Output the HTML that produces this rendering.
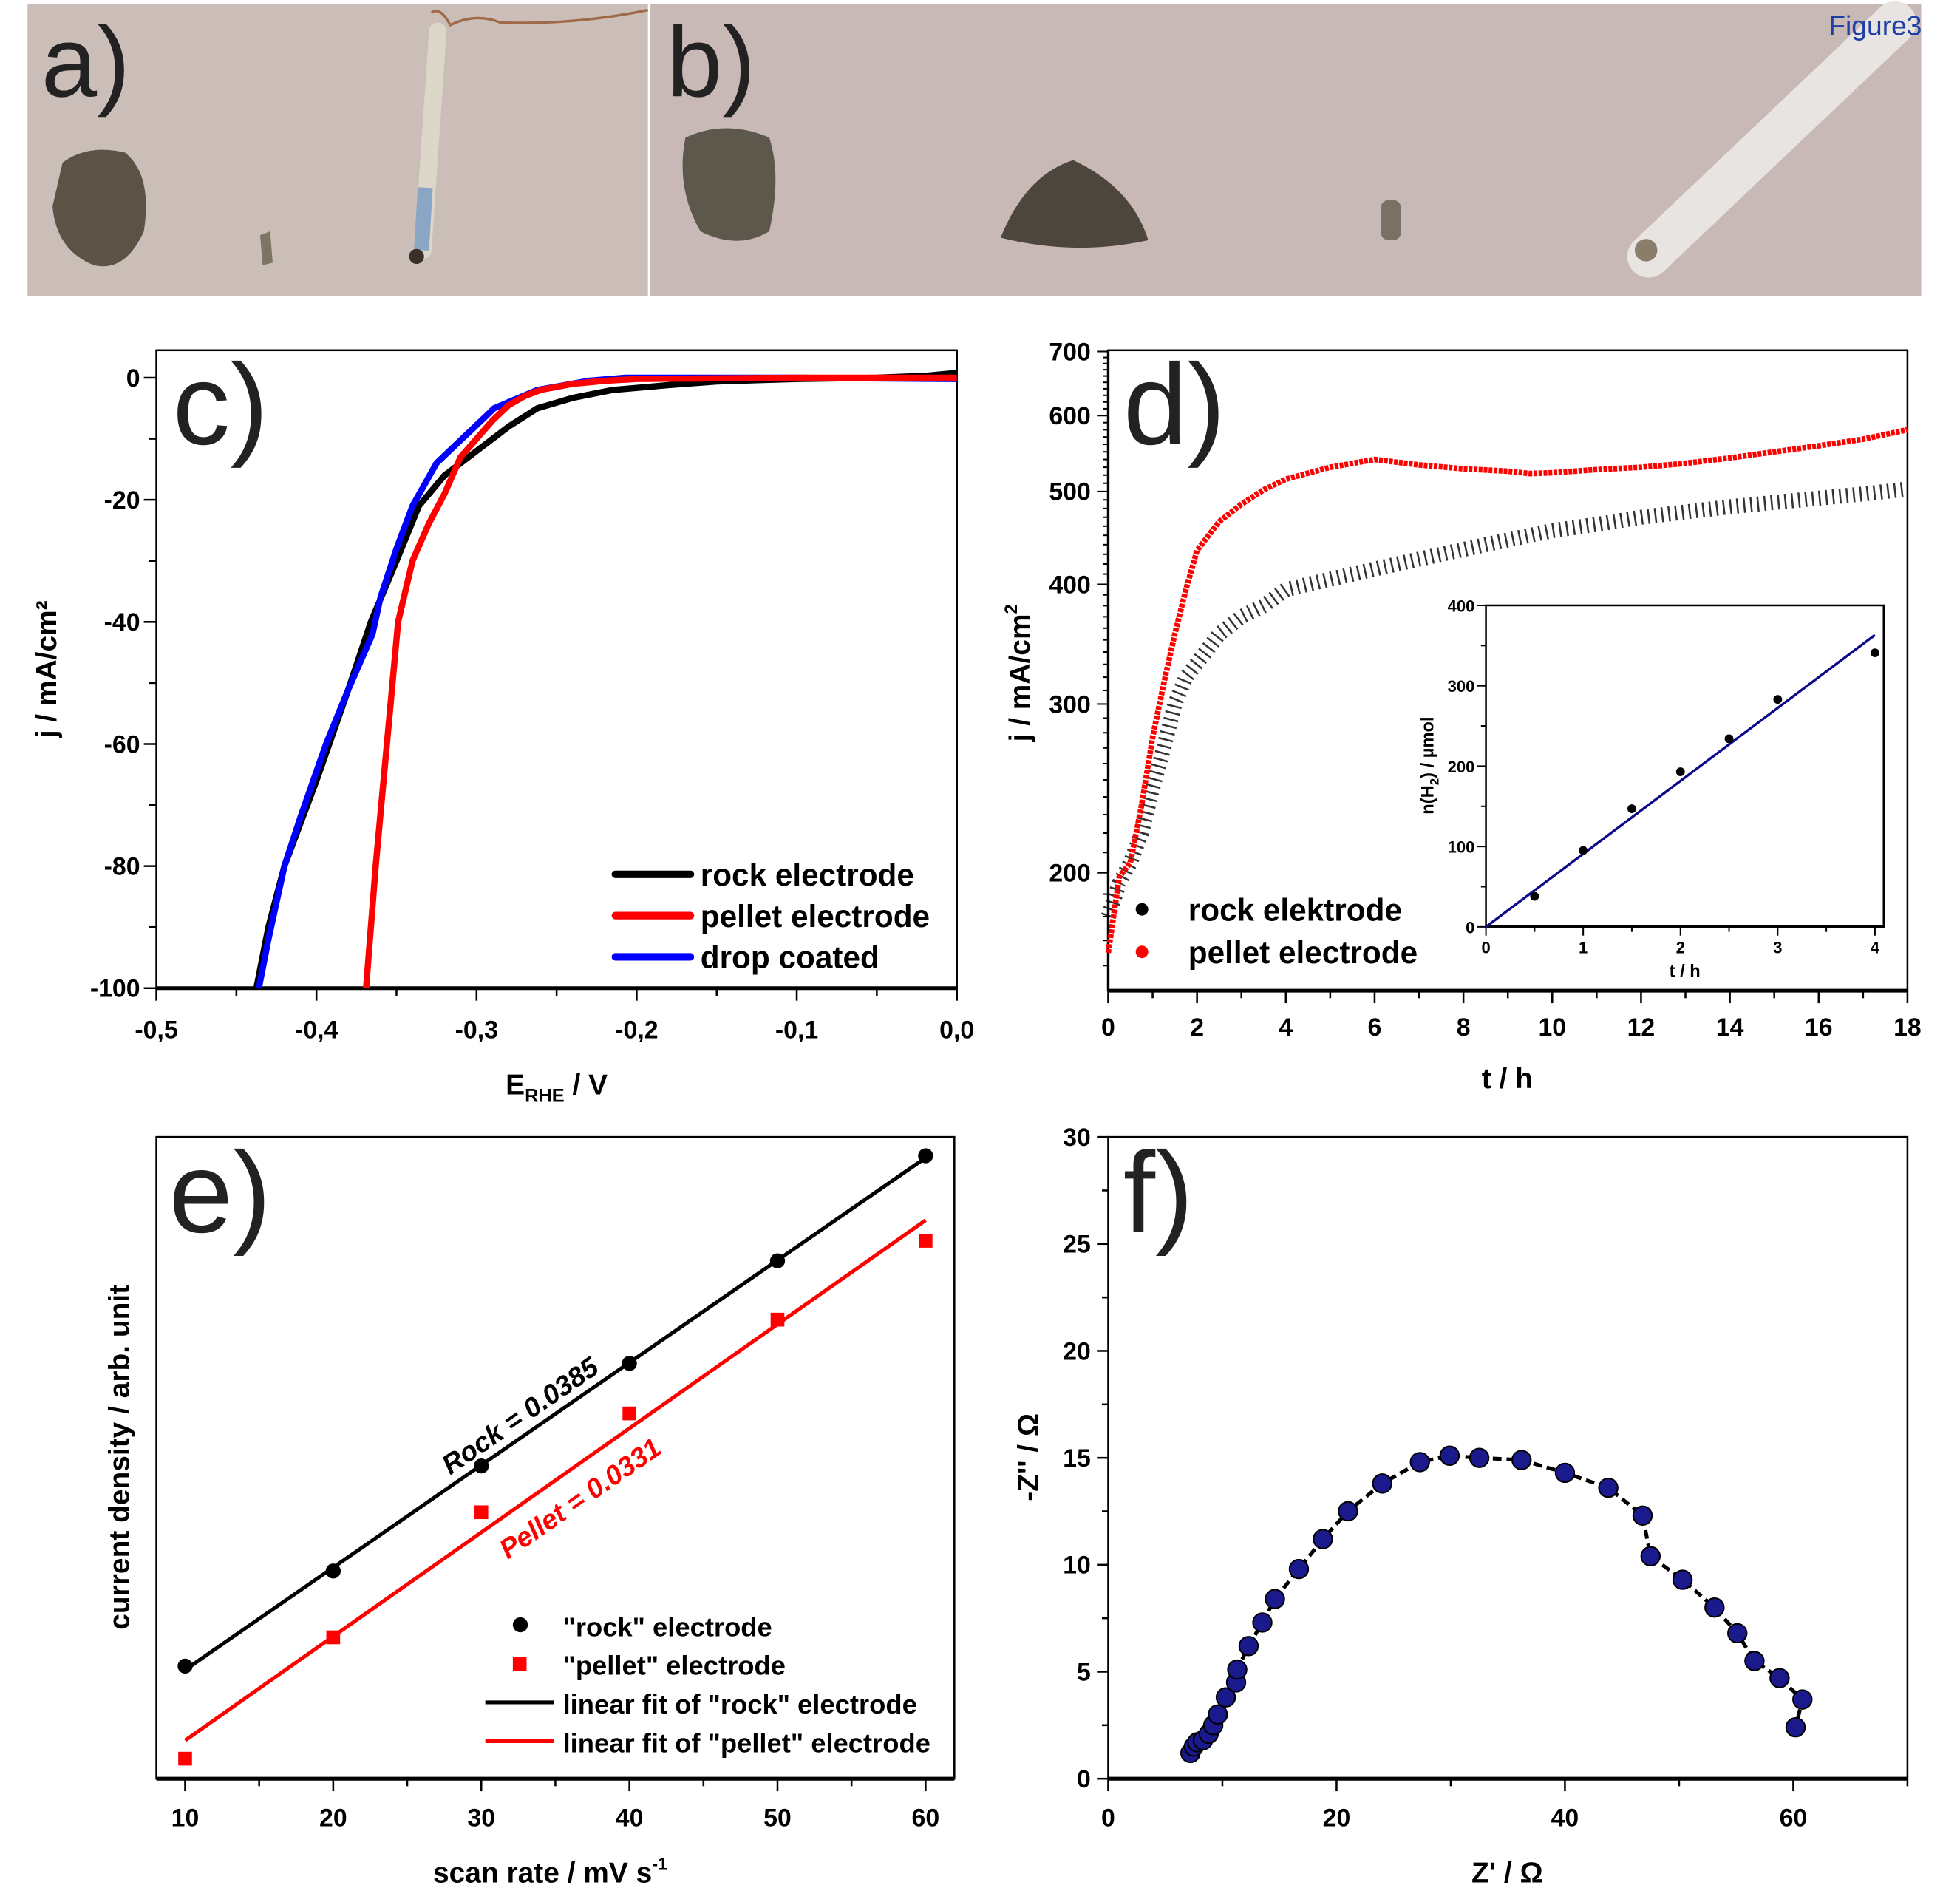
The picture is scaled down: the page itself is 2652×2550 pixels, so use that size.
<!DOCTYPE html>
<html><head><meta charset="utf-8"><style>
html,body{margin:0;padding:0;background:#fff;}
svg{display:block;}
text{font-family:"Liberation Sans",Arial,sans-serif;}
.tk{font-weight:bold;font-size:20px;fill:#000;}
.ttl{font-weight:bold;font-size:23px;fill:#000;}
.lg{font-weight:bold;font-size:25px;fill:#000;}
.big{font-size:92px;fill:#222;font-weight:normal;}
</style></head><body>
<svg id="fig" xmlns="http://www.w3.org/2000/svg" width="2652" height="2550" viewBox="0 0 1567 1507" preserveAspectRatio="none">
<g>
<rect x="22" y="3" width="496" height="234" fill="#cbbdb8"/>
<path d="M345,10 Q352,5 360,20 Q380,10 400,18 Q460,20 518,8" stroke="#a06a4a" stroke-width="2" fill="none"/>
<path d="M350,25 L338,200" stroke="#dcd7c8" stroke-width="14" stroke-linecap="round"/>
<path d="M340,150 L337,200" stroke="#8aa6c4" stroke-width="12"/>
<circle cx="333" cy="205" r="6" fill="#3a3027"/>
<path d="M50,130 Q70,115 100,122 Q122,140 115,185 Q100,218 75,212 Q45,200 42,165 Z" fill="#5b5446"/>
<path d="M208,188 L216,185 L218,210 L210,212 Z" fill="#7d7464"/>
<text class="big" x="33" y="77" style="font-size:80px" fill="#222">a)</text>
</g>
<g>
<rect x="520" y="3" width="1016" height="234" fill="#c8b8b6"/>
<path d="M548,110 Q580,95 615,110 Q625,140 615,185 Q590,200 560,185 Q540,150 548,110 Z" fill="#5e574b"/>
<path d="M800,190 Q820,140 858,128 Q905,150 918,192 Q860,205 800,190 Z" fill="#4d463d"/>
<rect x="1104" y="160" width="16" height="32" rx="6" fill="#7a7164"/>
<path d="M1318,205 L1515,18" stroke="#e8e4e2" stroke-width="34" stroke-linecap="round"/>
<circle cx="1316" cy="200" r="9" fill="#8a7d69"/>
<text class="big" x="533" y="77" style="font-size:80px">b)</text>
<text x="1462" y="28" style="font-size:22px" fill="#1d3fa5">Figure3</text>
</g>
<g id="pc"></g>
<g id="pd"></g>
<g id="pe"></g>
<g id="pf"></g>
</svg>
<script>
// ---- panel c data ----
const cRockE=[-0.4375,-0.43,-0.42,-0.41,-0.40,-0.392,-0.38,-0.366,-0.35,-0.336,-0.32,-0.30,-0.29,-0.28,-0.262,-0.24,-0.215,-0.18,-0.15,-0.1,-0.05,-0.02,0];
const cRockJ=[-100,-90,-80,-73,-66,-60,-51,-40,-30,-21,-16,-12,-10,-8,-5,-3.3,-2,-1.2,-0.6,-0.2,0,0.3,0.8];
const cPelletE=[-0.369,-0.363,-0.356,-0.349,-0.34,-0.33,-0.32,-0.31,-0.30,-0.29,-0.28,-0.27,-0.26,-0.24,-0.22,-0.2,-0.1,0];
const cPelletJ=[-100,-80,-60,-40,-30,-24,-19,-13,-10,-7,-4.5,-3,-2,-1,-0.5,-0.2,0,0];
const cDropE=[-0.436,-0.43,-0.42,-0.41,-0.394,-0.38,-0.365,-0.36,-0.35,-0.34,-0.325,-0.309,-0.289,-0.262,-0.23,-0.207,-0.1,0];
const cDropJ=[-100,-92,-80,-72,-60,-51,-42,-36,-28,-21,-14,-10,-5,-2,-0.5,0,0,-0.2];
const cXTicks=[-0.5,-0.4,-0.3,-0.2,-0.1,0.0];
const cXLabels=["-0,5","-0,4","-0,3","-0,2","-0,1","0,0"];
const cYTicks=[0,-20,-40,-60,-80,-100];
// ---- panel d data ----
const dTime=[0,0.25,0.5,0.75,1,1.25,1.5,1.75,2,2.5,3,3.5,4,5,6,7,8,9,9.5,10,11,12,13,14,15,16,17,18];
const dPellet=[165,198,205,235,277,315,355,395,434,465,485,502,515,530,540,533,528,525,522,523,527,530,535,542,550,558,567,580];
const dRock=[180,195,205,220,245,270,300,320,331,355,370,380,395,405,415,425,435,445,450,455,462,470,476,482,487,492,497,503];
const dXTicks=[0,2,4,6,8,10,12,14,16,18];
const dYTicks=[200,300,400,500,600,700];
const insetT=[0.5,1,1.5,2,2.5,3,4];
const insetN=[38,95,147,193,234,283,341];
const insetXTicks=[0,1,2,3,4];
const insetYTicks=[0,100,200,300,400];
// ---- panel e data ----
const eRate=[10,20,30,40,50,60];
const eRock=[90,166,250,332,414,498];
const ePellet=[16,113,213,292,367,430];
const eXTicks=[10,20,30,40,50,60];
// ---- panel f data ----
const fZre=[7.2,7.5,7.8,8.3,8.8,9.2,9.6,10.3,11.2,11.3,12.3,13.5,14.6,16.7,18.8,21,24,27.3,29.9,32.5,36.2,40,43.8,46.8,47.5,50.3,53.1,55.1,56.6,58.8,60.8,60.2];
const fZim=[1.2,1.5,1.7,1.8,2.1,2.5,3.0,3.8,4.5,5.1,6.2,7.3,8.4,9.8,11.2,12.5,13.8,14.8,15.1,15.0,14.9,14.3,13.6,12.3,10.4,9.3,8.0,6.8,5.5,4.7,3.7,2.4];
const fXTicks=[0,20,40,60];
const fYTicks=[0,5,10,15,20,25,30];

const NS="http://www.w3.org/2000/svg";
function mk(tag,attrs,parent){const e=document.createElementNS(NS,tag);for(const k in attrs)e.setAttribute(k,attrs[k]);parent.appendChild(e);return e;}
function txt(parent,x,y,s,cls,anchor,extra){const e=mk('text',Object.assign({x:x,y:y,'class':cls,'text-anchor':anchor||'middle'},extra||{}),parent);e.textContent=s;return e;}

// ===== Panel C =====
(function(){
const g=document.getElementById('pc');
const L=125,R=765,T=280,B=790;
const X=v=>L+(v+0.5)/0.5*(R-L);
const Y=v=>302+(-v)/100*(790-302);
let fr=mk('rect',{x:L,y:T,width:R-L,height:B-T,fill:'none',stroke:'#000','stroke-width':1.5},g);


let ax=mk('line',{x1:L,y1:B,x2:R,y2:B,stroke:'#000','stroke-width':3},g);


for(let i=0;i<=10;i++){const v=-0.5+i*0.05;mk('line',{x1:X(v),y1:B,x2:X(v),y2:B+(i%2?6:10),stroke:'#000','stroke-width':1.5},g);}
cXTicks.forEach((v,i)=>{const t=txt(g,X(v),B+40,cXLabels[i],'tk');

});
for(let v=0;v>=-100;v-=10){mk('line',{x1:L,y1:Y(v),x2:L-(v%20?6:10),y2:Y(v),stroke:'#000','stroke-width':1.5},g);}
cYTicks.forEach(v=>{const t=txt(g,L-13,Y(v)+7,String(v),'tk','end');

});
const xt=mk('text',{x:445,y:875,'class':'ttl','text-anchor':'middle'},g);
xt.innerHTML='E<tspan font-size="15" dy="6">RHE</tspan><tspan dy="-6"> / V</tspan>';


const yt=txt(g,0,0,'j / mA/cm²','ttl','middle',{transform:'translate(45,535) rotate(-90)'});


const lab=txt(g,138,355,'c)','big','start');


function series(E,J,col,name){const p=mk('polyline',{points:E.map((e,i)=>X(e)+','+Y(J[i])).join(' '),fill:'none',stroke:col,'stroke-width':5,'stroke-linejoin':'round'},g);

}
series(cRockE,cRockJ,'#000','rock-electrode-curve');
series(cDropE,cDropJ,'#0000ff','drop-coated-curve');
series(cPelletE,cPelletJ,'#ff0000','pellet-electrode-curve');
[['rock electrode','#000',699],['pellet electrode','#ff0000',732],['drop coated','#0000ff',765]].forEach(r=>{
const l=mk('line',{x1:492,y1:r[2],x2:552,y2:r[2],stroke:r[1],'stroke-width':6,'stroke-linecap':'round'},g);


const t=txt(g,560,r[2]+9,r[0],'lg','start');

});
})();

// ===== Panel D =====
(function(){
const g=document.getElementById('pd');
const L=886,R=1525,T=280,B=792;
const X=v=>L+v/18*(R-L);
const Y=v=>281+(Math.log10(700)-Math.log10(v))*766;
const fr=mk('rect',{x:L,y:T,width:R-L,height:B-T,fill:'none',stroke:'#000','stroke-width':1.5},g);


mk('line',{x1:L,y1:B,x2:R,y2:B,stroke:'#000','stroke-width':3},g);
mk('line',{x1:L,y1:T,x2:L,y2:B,stroke:'#000','stroke-width':2},g);
for(let v=0;v<=18;v++)mk('line',{x1:X(v),y1:B,x2:X(v),y2:B+(v%2?6:10),stroke:'#000','stroke-width':1.5},g);
dXTicks.forEach(v=>{const t=txt(g,X(v),B+36,String(v),'tk');

});
for(let v=160;v<=700;v+=10)mk('line',{x1:L,y1:Y(v),x2:L-(v%100?4:9),y2:Y(v),stroke:'#000','stroke-width':1.2},g);
dYTicks.forEach(v=>{const t=txt(g,L-14,Y(v)+7,String(v),'tk','end');

});
const xt=txt(g,1205,870,'t / h','ttl');


const yt=mk('text',{'class':'ttl','text-anchor':'middle',transform:'translate(823,538) rotate(-90)'},g);
yt.innerHTML='j / mA/cm<tspan font-size="14" dy="-10">2</tspan>';


const lab=txt(g,898,355,'d)','big','start');


const rk=mk('polyline',{points:dTime.map((t,i)=>X(t)+','+Y(dRock[i])).join(' '),fill:'none',stroke:'#000','stroke-width':12,'stroke-dasharray':'1.5 4',opacity:0.8},g);


const pl=mk('polyline',{points:dTime.map((t,i)=>X(t)+','+Y(dPellet[i])).join(' '),fill:'none',stroke:'#ff0000','stroke-width':4.5,'stroke-dasharray':'3 1'},g);


[['rock elektrode','#000',727],['pellet electrode','#ff0000',761]].forEach(r=>{
const c=mk('circle',{cx:913,cy:r[2],r:5,fill:r[1]},g);


const t=txt(g,950,r[2]+9,r[0],'lg','start');

});
// inset
const ig=mk('g',{},g);


const iL=1188,iR=1506,iT=484,iB=741;
const IX=v=>iL+v/4*(1499-iL);
const IY=v=>iB-v/400*(iB-iT);
mk('rect',{x:iL,y:iT,width:iR-iL,height:iB-iT,fill:'#fff',stroke:'#000','stroke-width':1.5},ig);
mk('line',{x1:iL,y1:iB,x2:iR,y2:iB,stroke:'#000','stroke-width':2.5},ig);
for(let v=0;v<=4;v+=0.5)mk('line',{x1:IX(v),y1:iB,x2:IX(v),y2:iB+(v%1?4:7),stroke:'#000','stroke-width':1.2},ig);
insetXTicks.forEach(v=>{const t=txt(ig,IX(v),iB+21,String(v),'tk','middle',{style:'font-size:13px'});

});
for(let v=0;v<=400;v+=50)mk('line',{x1:iL,y1:IY(v),x2:iL-(v%100?4:7),y2:IY(v),stroke:'#000','stroke-width':1.2},ig);
insetYTicks.forEach(v=>{const t=txt(ig,iL-9,IY(v)+5,String(v),'tk','end',{style:'font-size:13px'});

});
const ixt=txt(ig,1347,781,'t / h','tk','middle',{style:'font-size:14px'});


const iyt=mk('text',{'class':'tk','text-anchor':'middle',style:'font-size:14px',transform:'translate(1146,612) rotate(-90)'},ig);
iyt.innerHTML='n(H<tspan font-size="10" dy="4">2</tspan><tspan dy="-4">) / µmol</tspan>';


let sxy=0,sxx=0;insetT.forEach((t,i)=>{sxy+=t*insetN[i];sxx+=t*t;});const k=sxy/sxx;
const fl=mk('line',{x1:IX(0),y1:IY(0),x2:IX(4),y2:IY(4*k),stroke:'#0a0a8a','stroke-width':2},ig);


insetT.forEach((t,i)=>{const c=mk('circle',{cx:IX(t),cy:IY(insetN[i]),r:3.5,fill:'#000'},ig);

});
})();

// ===== Panel E =====
(function(){
const g=document.getElementById('pe');
const L=125,R=763,T=909,B=1422;
const X=v=>148+(v-10)/50*(740-148);
const Y=v=>B-v;
const fr=mk('rect',{x:L,y:T,width:R-L,height:B-T,fill:'none',stroke:'#000','stroke-width':1.5},g);


mk('line',{x1:L,y1:B,x2:R,y2:B,stroke:'#000','stroke-width':3},g);
for(let v=10;v<=60;v+=5)mk('line',{x1:X(v),y1:B,x2:X(v),y2:B+(v%10?6:10),stroke:'#000','stroke-width':1.5},g);
eXTicks.forEach(v=>{const t=txt(g,X(v),B+38,String(v),'tk');

});
const xt=mk('text',{x:440,y:1505,'class':'ttl','text-anchor':'middle'},g);
xt.innerHTML='scan rate / mV s<tspan font-size="14" dy="-10">-1</tspan>';


const yt=txt(g,0,0,'current density / arb. unit','ttl','middle',{transform:'translate(103,1165) rotate(-90)'});


const lab=txt(g,135,985,'e)','big','start');


function fit(ys){const n=eRate.length;let mx=0,my=0;eRate.forEach((x,i)=>{mx+=x;my+=ys[i];});mx/=n;my/=n;let sxy=0,sxx=0;eRate.forEach((x,i)=>{sxy+=(x-mx)*(ys[i]-my);sxx+=(x-mx)*(x-mx);});const b=sxy/sxx;return [my+b*(10-mx),my+b*(60-mx)];}
const fr1=fit(eRock),fp=fit(ePellet);
const l1=mk('line',{x1:X(10),y1:Y(fr1[0]),x2:X(60),y2:Y(fr1[1]),stroke:'#000','stroke-width':3},g);


const l2=mk('line',{x1:X(10),y1:Y(fp[0]),x2:X(60),y2:Y(fp[1]),stroke:'#ff0000','stroke-width':3},g);


eRate.forEach((x,i)=>{const c=mk('circle',{cx:X(x),cy:Y(eRock[i]),r:6,fill:'#000'},g);


const s=mk('rect',{x:X(x)-5.5,y:Y(ePellet[i])-5.5,width:11,height:11,fill:'#ff0000'},g);

});
const ang=Math.atan2(Y(fr1[1])-Y(fr1[0]),X(60)-X(10))*180/Math.PI;
const a1=txt(g,0,0,'Rock = 0.0385','tk','middle',{style:'font-style:italic;font-size:22px',transform:'translate(420,1138) rotate('+ang+')'});


const a2=txt(g,0,0,'Pellet = 0.0331','tk','middle',{style:'font-style:italic;font-size:22px;fill:#ff0000',transform:'translate(468,1204) rotate('+ang+')'});


const lg=[['"rock" electrode',1300],['"pellet" electrode',1331],['linear fit of "rock" electrode',1362],['linear fit of "pellet" electrode',1393]];
let m=mk('circle',{cx:416,cy:1299,r:6,fill:'#000'},g);


m=mk('rect',{x:410,y:1325,width:11,height:11,fill:'#ff0000'},g);


m=mk('line',{x1:388,y1:1361,x2:443,y2:1361,stroke:'#000','stroke-width':3},g);


m=mk('line',{x1:388,y1:1392,x2:443,y2:1392,stroke:'#ff0000','stroke-width':3},g);


lg.forEach(r=>{const t=txt(g,450,r[1]+8,r[0],'tk','start',{style:'font-size:21.5px'});

});
})();

// ===== Panel F =====
(function(){
const g=document.getElementById('pf');
const L=886,R=1525,T=909,B=1422;
const X=v=>L+v/70*(R-L);
const Y=v=>B-v/30*(B-T);
const fr=mk('rect',{x:L,y:T,width:R-L,height:B-T,fill:'none',stroke:'#000','stroke-width':1.5},g);


mk('line',{x1:L,y1:B,x2:R,y2:B,stroke:'#000','stroke-width':3},g);
for(let v=0;v<=70;v+=10)mk('line',{x1:X(v),y1:B,x2:X(v),y2:B+(v%20?6:10),stroke:'#000','stroke-width':1.5},g);
fXTicks.forEach(v=>{const t=txt(g,X(v),B+38,String(v),'tk');

});
for(let v=0;v<=30;v+=2.5)mk('line',{x1:L,y1:Y(v),x2:L-(v%5?5:9),y2:Y(v),stroke:'#000','stroke-width':1.5},g);
fYTicks.forEach(v=>{const t=txt(g,L-14,Y(v)+7,String(v),'tk','end');

});
const xt=txt(g,1205,1505,"Z' / Ω",'ttl');


const yt=txt(g,0,0,"-Z'' / Ω",'ttl','middle',{transform:'translate(830,1165) rotate(-90)'});


const lab=txt(g,898,985,'f)','big','start');


const p=mk('polyline',{points:fZre.map((x,i)=>X(x)+','+Y(fZim[i])).join(' '),fill:'none',stroke:'#000','stroke-width':3,'stroke-dasharray':'7 4'},g);


fZre.forEach((x,i)=>{const c=mk('circle',{cx:X(x),cy:Y(fZim[i]),r:7.5,fill:'#1a1a8c',stroke:'#000','stroke-width':1.2},g);

});
})();
</script>
</body></html>
